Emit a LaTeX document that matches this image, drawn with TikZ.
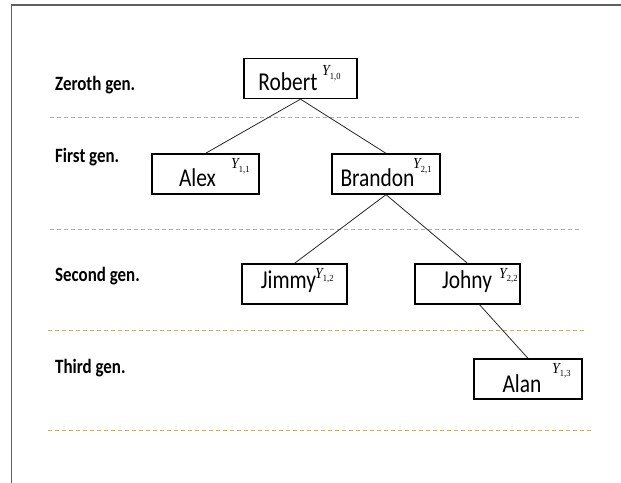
\documentclass[tikz,border=0pt]{standalone}
\usepackage{fontspec}
\setmainfont{Carlito}
\newfontfamily\yfont{Liberation Serif}
\definecolor{framegray}{RGB}{95,95,95}
\definecolor{genline}{RGB}{185,176,125}

\tikzset{
  person/.style={draw=black, line width=1.3pt, minimum height=40bp, inner sep=0pt},
  pname/.style={anchor=base, font=\fontsize{21.5}{24}\selectfont, inner sep=0pt},
  genlabel/.style={anchor=base west, font=\bfseries\fontsize{17}{19}\selectfont, inner sep=0pt},
  ylab/.style={anchor=base west, inner sep=0pt},
  genrule/.style={draw=genline, line width=1bp, dash pattern=on 4bp off 3bp},
  link/.style={draw=black!85, line width=0.8pt},
}
% taller set text
\newcommand{\tall}[1]{\scalebox{1}[1.2]{#1}}
% italic Y with a small upright index
\newcommand{\Yidx}[1]{\scalebox{1}[1.1]{{\yfont\fontsize{14}{14}\selectfont\itshape Y}\raisebox{-3bp}{\yfont\fontsize{8.5}{9}\selectfont #1}}}

\begin{document}
\begin{tikzpicture}[x=1bp,y=-1bp]
\useasboundingbox (0,0) rectangle (621,483);

% page frame
\draw[framegray, line width=1.5bp] (11.5,483) -- (11.5,5) -- (621,5);

% generation separators
\draw[genrule] (50,117.5) -- (580,117.5);
\draw[genrule] (50,229.5) -- (580,229.5);
\draw[genrule] (48,330.5) -- (587,330.5);
\draw[genrule] (48,430.5) -- (592,430.5);

% generation labels
\node[genlabel] (g0) at (55,91)  {\tall{Zeroth gen.}};
\node[genlabel] (g1) at (55,163) {\tall{First gen.}};
\node[genlabel] (g2) at (55,281) {\tall{Second gen.}};
\node[genlabel] (g3) at (55,373) {\tall{Third gen.}};

% family boxes
\node[person, minimum width=113bp] (robert)  at (300.5,78.5) {};
\node[person, minimum width=107bp] (alex)    at (205.5,174) {};
\node[person, minimum width=108bp] (brandon) at (386,174) {};
\node[person, minimum width=105bp] (jimmy)   at (294.5,284) {};
\node[person, minimum width=105bp] (johny)   at (467.5,284) {};
\node[person, minimum width=108bp] (alan)    at (528,379) {};

% names
\node[pname] (robertname)  at (288,91)    {\tall{Robert}};
\node[pname] (alexname)    at (197.5,187) {\tall{Alex}};
\node[pname] (brandonname) at (377.5,187) {\tall{Brandon}};
\node[pname] (jimmyname)   at (288.5,288) {\tall{Jimmy}};
\node[pname] (johnyname)   at (467,288)   {\tall{Johny}};
\node[pname] (alanname)    at (522,392)   {\tall{Alan}};

% indices
\node[ylab] (ry) at (322,76)  {\Yidx{1,0}};
\node[ylab] (ay) at (231,169) {\Yidx{1,1}};
\node[ylab] (by) at (413,169) {\Yidx{2,1}};
\node[ylab] (jy) at (315,278) {\Yidx{1,2}};
\node[ylab] (hy) at (499,278) {\Yidx{2,2}};
\node[ylab] (ly) at (552,373) {\Yidx{1,3}};

% parent-child links
\draw[link] (robert.south) -- (alex.north);
\draw[link] (robert.south) -- (brandon.north);
\draw[link] (brandon.south) -- (jimmy.north);
\draw[link] (brandon.south) -- (johny.north);
\draw[link] ([xshift=12bp]johny.south) -- (alan.north);
\end{tikzpicture}
\end{document}
